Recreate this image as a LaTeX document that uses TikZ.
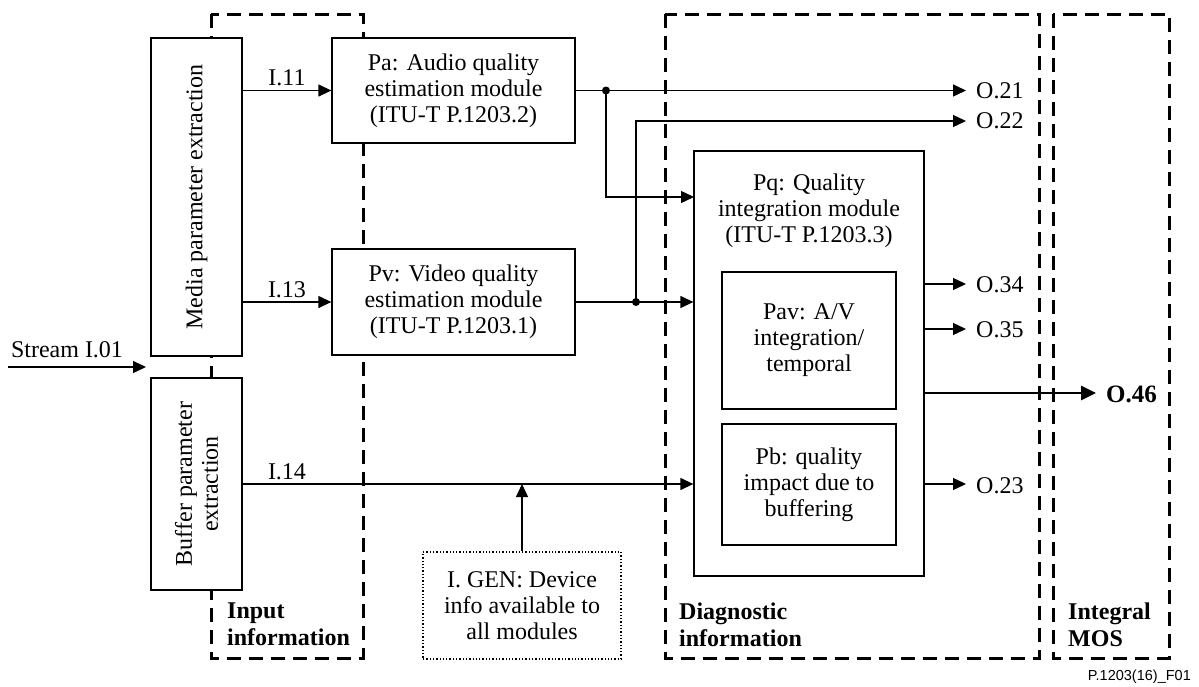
\documentclass[tikz,border=0pt]{standalone}
\usepackage{fontspec}
\setmainfont{Liberation Serif}
\newfontfamily\arialfont{Liberation Sans}
\usetikzlibrary{arrows.meta}
\tikzset{
  lbl/.style={font=\fontsize{24}{26}\selectfont, inner sep=0pt, align=center},
  boldlbl/.style={font=\fontsize{24}{27}\selectfont\bfseries, inner sep=0pt, align=left},
  modbox/.style={draw, line width=1.3pt, inner sep=0pt, align=center, font=\fontsize{24}{26}\selectfont},
  dotbox/.style={modbox, dotted, line width=1.2pt},
  grp/.style={line width=3pt, dash pattern=on 14pt off 8pt},
  conn/.style={line width=1.3pt},
  arr/.style={conn, -{Triangle[length=13pt,width=12pt]}},
  thickarr/.style={line width=2.6pt, -{Triangle[length=15pt,width=14pt]}},
  junc/.style={circle, fill, inner sep=0pt, minimum size=8pt},
}
\begin{document}
\begin{tikzpicture}[x=1pt,y=-1pt]
\useasboundingbox (0,0) rectangle (1199,686);
% group boxes
\draw[grp] (211,14) rectangle (363,658);
\draw[grp] (665,14) rectangle (1039,658);
\draw[grp] (1053,14) rectangle (1169,658);
% modules
\node[modbox, fill=white, minimum width=91pt, minimum height=318pt] (media) at (196.5,197) {};
\node[rotate=90, lbl] at (media.center) {Media parameter extraction};
\node[modbox, fill=white, minimum width=91pt, minimum height=212pt] (buffer) at (196.5,484) {};
\node[rotate=90, lbl] at (buffer.center) {Buffer parameter\\extraction};
\node[modbox, fill=white, minimum width=243pt, minimum height=105pt] (pa) at (453.5,90.5) {Pa: Audio quality\\estimation module\\(ITU-T P.1203.2)};
\node[modbox, fill=white, minimum width=243pt, minimum height=106pt] (pv) at (453.5,302) {Pv: Video quality\\estimation module\\(ITU-T P.1203.1)};
\node[modbox, fill=white, minimum width=230pt, minimum height=425pt] (pq) at (809,363.5) {};
\node[lbl] (pqt) at (809,211) {Pq: Quality\\integration module\\(ITU-T P.1203.3)};
\node[modbox, minimum width=174pt, minimum height=137pt] (pav) at (809,340.5) {Pav: A/V\\integration/\\temporal};
\node[modbox, minimum width=174pt, minimum height=121pt] (pb) at (809,484.5) {Pb: quality\\impact due to\\buffering};
\node[dotbox, minimum width=198pt, minimum height=107pt] (igen) at (522,605.5) {I. GEN: Device\\info available to\\all modules};
% stream input
\coordinate (s0) at (8,367);
\coordinate (s1) at (146,367);
\draw[arr] (s0) -- (s1);
\node[lbl, anchor=south] (streamlbl) at (67,358) {Stream I.01};
% inputs
\draw[arr] (media.east |- pa.west) -- node[lbl, above=4pt] (l11) {I.11} (pa.west);
\draw[arr] (media.east |- pv.west) -- node[lbl, above=4pt] (l13) {I.13} (pv.west);
\draw[arr] (buffer.east) -- (pq.west |- buffer.east);
\node[lbl, anchor=south] (l14) at (287,480) {I.14};
\draw[arr] (igen.north) -- (igen.north |- buffer.east);
% audio output
\node[junc] (ja) at (606,90.5) {};
\coordinate (o21) at (966,90.5);
\draw[arr] (pa.east) -- (o21);
\coordinate (pqa) at (694,197);
\draw[arr] (ja.center) |- (pqa);
% video output
\node[junc] (jv) at (636,302) {};
\draw[arr] (pv.east) -- (pq.west |- pv.east);
\coordinate (o22) at (966,121);
\draw[arr] (jv.center) |- (o22);
% outputs from Pq
\coordinate (o34) at (966,284);
\coordinate (o35) at (966,329);
\coordinate (o46) at (1096,393);
\coordinate (o23) at (966,484);
\draw[arr] (pq.east |- o34) -- (o34);
\draw[arr] (pq.east |- o35) -- (o35);
\draw[thickarr] (pq.east |- o46) -- (o46);
\draw[arr] (pq.east |- o23) -- (o23);
\node[lbl, anchor=west] (t21) at (976,91) {O.21};
\node[lbl, anchor=west] (t22) at (976,121) {O.22};
\node[lbl, anchor=west] (t34) at (976,285) {O.34};
\node[lbl, anchor=west] (t35) at (976,330) {O.35};
\node[lbl, anchor=west, font=\fontsize{25}{27}\selectfont\bfseries] (t46) at (1106,394) {O.46};
\node[lbl, anchor=west] (t23) at (976,486) {O.23};
% group labels
\node[boldlbl, anchor=west] (gin) at (227,624) {Input\\information};
\node[boldlbl, anchor=west] (gdiag) at (679,625) {Diagnostic\\information};
\node[boldlbl, anchor=west] (gmos) at (1068,625) {Integral\\MOS};
\node[anchor=east, inner sep=0pt, font=\arialfont\fontsize{14.5}{16}\selectfont] (fig) at (1191,677) {P.1203(16)\_F01};
\end{tikzpicture}
\end{document}
